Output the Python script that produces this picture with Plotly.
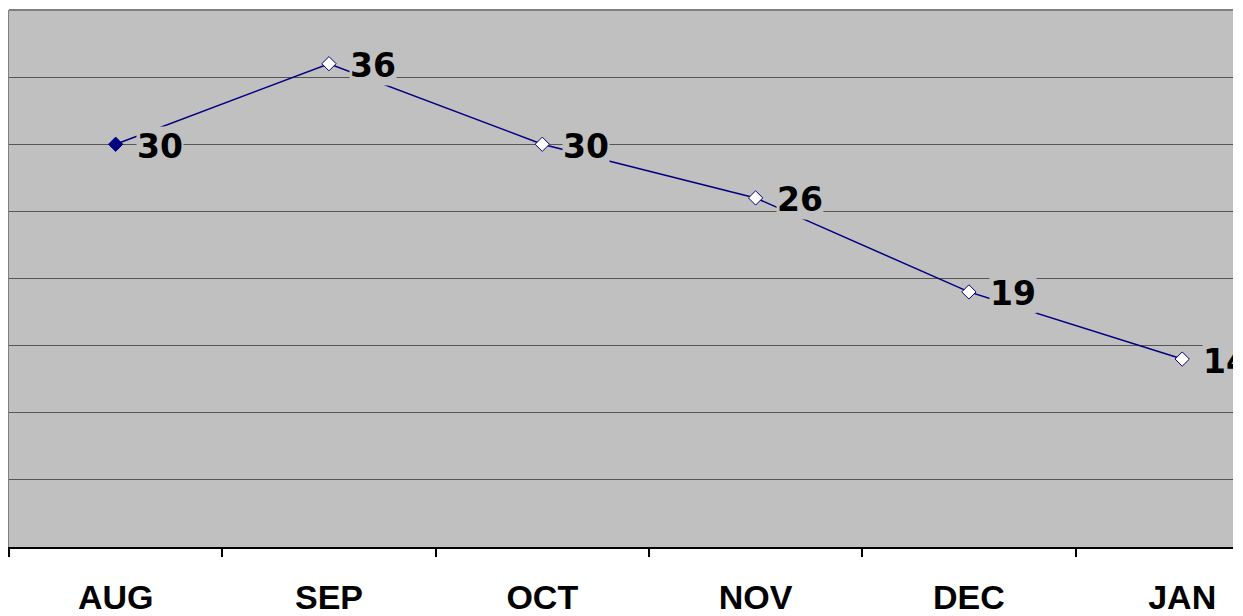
import plotly.graph_objects as go

months = ["AUG", "SEP", "OCT", "NOV", "DEC", "JAN"]
values = [30, 36, 30, 26, 19, 14]
marker_fill = ["#000080", "white", "white", "white", "white", "white"]

BG = "#C0C0C0"
NAVY = "#000080"

fig = go.Figure()
fig.add_trace(go.Scatter(
    x=months, y=values, mode="lines+markers",
    line=dict(color=NAVY, width=1.5),
    marker=dict(symbol="diamond", size=11, color=marker_fill,
                line=dict(color=NAVY, width=1)),
    hoverinfo="skip", showlegend=False,
))

for m, v in zip(months, values):
    fig.add_annotation(
        x=m, y=v, text=str(v), showarrow=False,
        xanchor="left", yanchor="middle", xshift=20, yshift=-2,
        bgcolor=BG, borderpad=0,
        font=dict(family="DejaVu Sans", size=33, color="black", weight="bold"),
    )

fig.add_shape(type="line", xref="paper", yref="paper", x0=0, x1=1, y0=1, y1=1,
              line=dict(color="#808080", width=2), layer="above")

fig.update_layout(
    width=1225, height=608,
    margin=dict(l=1, r=0, t=2, b=69, pad=0),
    paper_bgcolor="white", plot_bgcolor=BG,
    xaxis=dict(
        type="category", range=[-0.5, 5.238], tickson="boundaries",
        ticks="outside", ticklen=8, tickwidth=2, tickcolor="black",
        showline=True, linecolor="black", linewidth=2,
        showgrid=False, zeroline=False, automargin=False,
        tickfont=dict(family="Liberation Sans", size=34, color="black", weight="bold"),
        ticklabelstandoff=19,
    ),
    yaxis=dict(
        range=[0, 40], dtick=5, showticklabels=False, ticks="",
        showgrid=True, gridcolor="#555555", gridwidth=1,
        showline=True, linecolor="#808080", linewidth=2,
        zeroline=False, automargin=False,
    ),
)

fig.write_html("out.html")
